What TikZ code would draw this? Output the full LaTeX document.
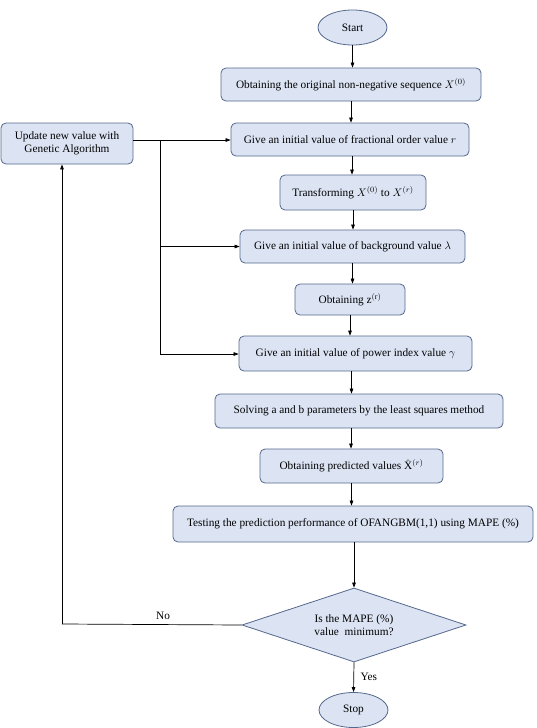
\documentclass[tikz,border=0pt]{standalone}
\usepackage{fontspec}
\setmainfont{Liberation Serif}
\usetikzlibrary{shapes.geometric,arrows.meta}
\definecolor{boxfill}{HTML}{DCE4F4}
\definecolor{boxline}{HTML}{55688C}
\begin{document}
\begin{tikzpicture}[x=1pt,y=-1pt,
  every node/.style={font=\fontsize{11.3}{13.5}\selectfont},
  proc/.style={draw=boxline,fill=boxfill,rounded corners=5pt,line width=0.8pt,inner sep=0pt,align=center},
  term/.style={draw=boxline,fill=boxfill,ellipse,line width=0.8pt,inner sep=0pt,minimum width=69pt,minimum height=35pt},
  dec/.style={draw=boxline,fill=boxfill,diamond,aspect=3,line width=0.8pt,inner sep=0pt,minimum width=224pt,minimum height=74pt,align=center},
  arr/.style={-{Triangle[length=5pt,width=3.6pt]},line width=0.7pt,black},
  ln/.style={line width=0.7pt,black}]
\useasboundingbox (0,0) rectangle (537,728);
\node[term] (start) at (352.5,27.5) {Start};
\node[proc,minimum width=260pt,minimum height=33pt] (b1) at (351,84.5) {Obtaining the original non-negative sequence $X^{(0)}$};
\node[proc,minimum width=238pt,minimum height=33pt] (b2) at (350,139.5) {Give an initial value of fractional order value $r$};
\node[proc,minimum width=132pt,minimum height=41pt] (upd) at (67,143.5) {Update new value with\\Genetic Algorithm};
\node[proc,minimum width=146pt,minimum height=35pt] (b3) at (353,192.5) {Transforming $X^{(0)}$ to $X^{(r)}$};
\node[proc,minimum width=225pt,minimum height=33pt] (b4) at (352.5,246.5) {Give an initial value of background value $\lambda$};
\node[proc,minimum width=110pt,minimum height=31pt] (b5) at (350,299.5) {Obtaining $\mathrm{z}^{(\mathrm{r})}$};
\node[proc,minimum width=233pt,minimum height=35pt] (b6) at (355.5,353.5) {Give an initial value of power index value $\gamma$};
\node[proc,minimum width=288pt,minimum height=34pt] (b7) at (359,411) {Solving a and b parameters by the least squares method};
\node[proc,minimum width=183pt,minimum height=34pt] (b8) at (351.5,466) {Obtaining predicted values $\hat{\mathrm{X}}^{(r)}$};
\node[proc,minimum width=360pt,minimum height=36pt] (b9) at (353,524) {Testing the prediction performance of OFANGBM(1,1) using MAPE (\%)};
\node[dec] (d) at (354,625) {Is the MAPE (\%)\\value\ \ minimum?};
\node[term] (stop) at (353.5,710) {Stop};
\node (no) at (163,616) {No};
\node[anchor=west] (yes) at (357,677) {Yes};
\coordinate (j) at (160,140);
\coordinate (jb) at (160,354);
\coordinate (c) at (62,624);
\draw[arr] (start.south) -- (start.south |- b1.north);
\draw[arr] (b1.south) -- (b1.south |- b2.north);
\draw[arr] ([xshift=2pt]b2.south) -- ([xshift=2pt]b2.south |- b3.north);
\draw[arr] (b3.south) -- (b3.south |- b4.north);
\draw[arr] (b4.south) -- (b4.south |- b5.north);
\draw[arr] (b5.south) -- (b5.south |- b6.north);
\draw[arr] ([xshift=-4pt]b6.south) -- ([xshift=-4pt]b6.south |- b7.north);
\draw[arr] ([xshift=-8pt]b7.south) -- ([xshift=-8pt]b7.south |- b8.north);
\draw[arr] (b8.south) -- (b8.south |- b9.north);
\draw[arr] ([xshift=1pt]b9.south) -- ([xshift=1pt]b9.south |- d.north);
\draw[arr] (d.south) -- (stop.north);
\draw[arr] (upd.east |- j) -- (b2.west |- j);
\draw[ln] (j) -- (jb);
\draw[arr] (j |- b4.west) -- (b4.west);
\draw[arr] (jb) -- (b6.west |- jb);
\draw[ln] (d.west) -- (c);
\draw[arr] (c) -- (c |- upd.south);
\end{tikzpicture}
\end{document}
